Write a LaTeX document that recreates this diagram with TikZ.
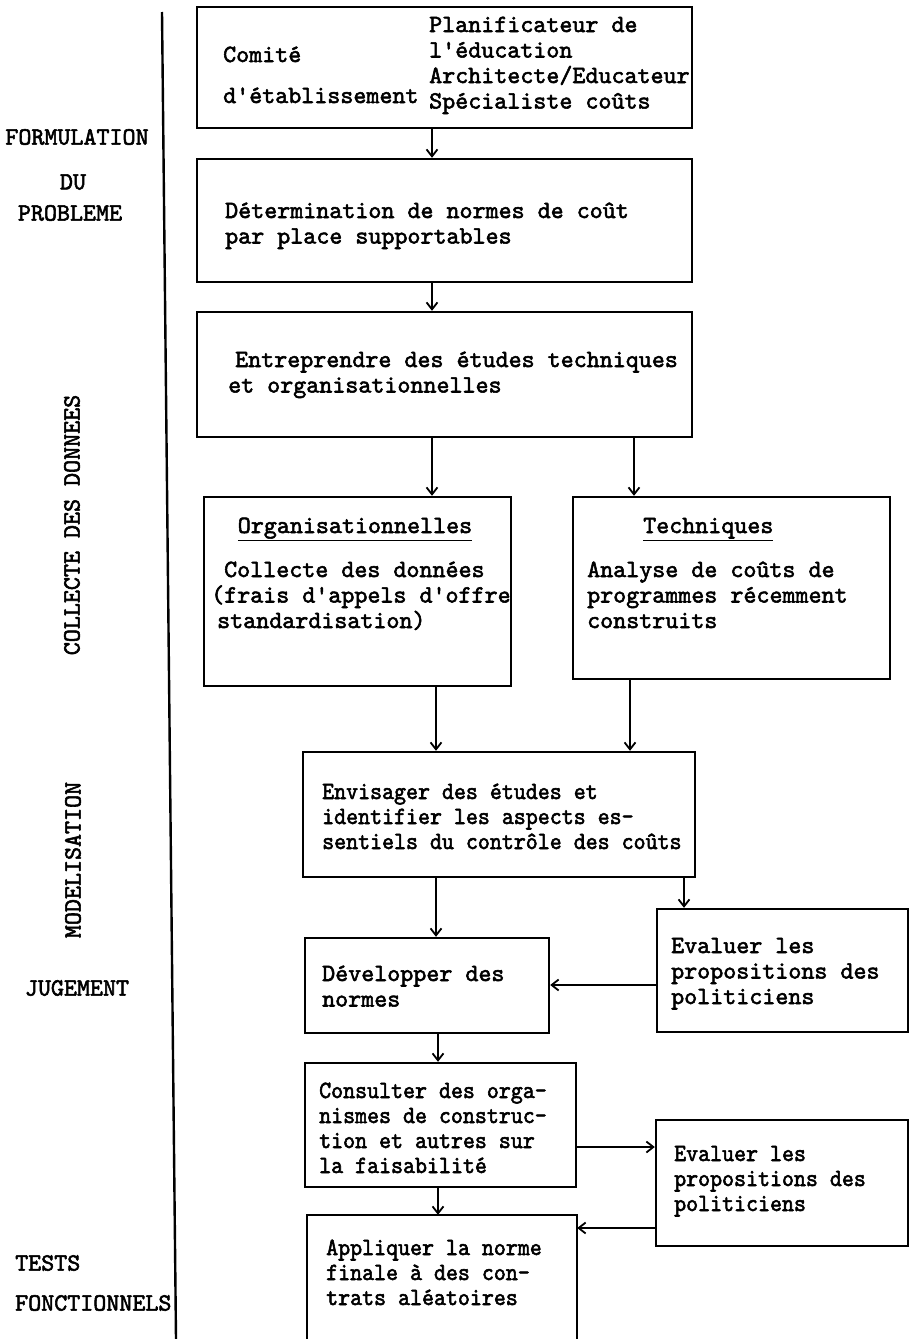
\documentclass[tikz,border=0pt]{standalone}
\usepackage{fontspec}
\usetikzlibrary{arrows.meta}
\newcommand\stack[1]{\begin{tabular}[t]{@{}l@{}}#1\end{tabular}}
% typewriter faces: regular and slightly condensed
\newfontfamily\twfam{lmmono10-regular.otf}[FakeBold=2.2]
\newfontfamily\twcfam{lmmono10-regular.otf}[FakeBold=2.2,FakeStretch=0.92]
\newcommand\twfont{\twfam\fontsize{24.8}{25.5}\selectfont}
\newcommand\twcfont{\twcfam\fontsize{24.8}{25}\selectfont}
\tikzset{
  x=1pt, y=-1pt,
  box/.style={draw, line width=2.4pt, inner sep=0pt},
  openbox/.style={inner sep=0pt},
  txt/.style={anchor=base west, inner sep=0pt, font=\twfont},
  ctxt/.style={anchor=base west, inner sep=0pt, font=\twcfont},
  side/.style={inner sep=0pt, font=\twfont},
  arr/.style={line width=1.8pt, -{Straight Barb[length=7pt,width=11pt,line width=1.8pt]}},
  rule/.style={line width=2.4pt}
}
\begin{document}
\begin{tikzpicture}
\useasboundingbox (0,0) rectangle (910,1339);

% phase rule on the left
\coordinate (ruletop) at (162,12);
\coordinate (rulebot) at (176,1339);
\draw[rule] (ruletop) -- (rulebot);

% phase labels
\node[side] (lf1) at (77,137) {FORMULATION};
\node[side] (lf2) at (73,182) {DU};
\node[side] (lf3) at (70,213) {PROBLEME};
\node[side, rotate=90] (lcol) at (72,525) {COLLECTE DES DONNEES};
\node[side, rotate=90] (lmod) at (73,860) {MODELISATION};
\node[side] (ljug) at (77,988) {JUGEMENT};
\node[side, anchor=west] (ltst) at (15,1263) {TESTS};
\node[side, anchor=west] (lfon) at (15,1303) {FONCTIONNELS};

% boxes (centre, size)
\node[box, minimum width=495pt, minimum height=121pt] (comite) at (444.5,67.5) {};
\node[box, minimum width=495pt, minimum height=123pt] (norme) at (444.5,220.5) {};
\node[box, minimum width=495pt, minimum height=125pt] (etudes) at (444.5,374.5) {};
\node[box, minimum width=307pt, minimum height=189pt] (org) at (357.5,591.5) {};
\node[box, minimum width=317pt, minimum height=182pt] (tech) at (731.5,588) {};
\node[box, minimum width=392pt, minimum height=125pt] (envis) at (499,814.5) {};
\node[box, minimum width=251pt, minimum height=123pt] (eval1) at (782.5,970.5) {};
\node[box, minimum width=244pt, minimum height=95pt] (devel) at (427,985.5) {};
\node[box, minimum width=271pt, minimum height=124pt] (consult) at (440.5,1125) {};
\node[box, minimum width=252pt, minimum height=126pt] (eval2) at (782,1183) {};
\node[openbox, minimum width=270pt, minimum height=124pt] (appl) at (442,1277) {};
\draw[line width=2.4pt] (appl.south west) -- (appl.north west) -- (appl.north east) -- (appl.south east);

% box texts
\node[txt] (t1a) at (223,62) {\stack{Comité\\[15.5pt]d'établissement}};
\node[txt] (t1b) at (429,32) {\stack{Planificateur de\\l'éducation\\Architecte/Educateur\\Spécialiste coûts}};
\node[txt] (t2) at (225,218) {\stack{Détermination de normes de coût\\par place supportables}};
\node[txt] (t3) at (228,367) {\stack{\hspace{7pt}Entreprendre des études techniques\\et organisationnelles}};
\node[txt, anchor=base] (t4h) at (355,533) {\underline{Organisationnelles}};
\node[txt] (t4) at (211,577) {\stack{\hspace{13pt}Collecte des données\\(frais d'appels d'offre\\\hspace{6pt}standardisation)}};
\node[txt] (t5h) at (643,533) {\underline{Techniques}};
\node[txt] (t5) at (587,577) {\stack{Analyse de coûts de\\programmes récemment\\construits}};
\node[ctxt] (t6) at (322,799) {\stack{Envisager des études et\\identifier les aspects es-\\sentiels du contrôle des coûts}};
\node[txt] (t7) at (671,953) {\stack{Evaluer les\\propositions des\\politiciens}};
\node[txt] (t8) at (322,981) {\stack{Développer des\\normes}};
\node[ctxt] (t9) at (319,1098) {\stack{Consulter des orga-\\nismes de construc-\\tion et autres sur\\la faisabilité}};
\node[ctxt] (t10) at (674,1161) {\stack{Evaluer les\\propositions des\\politiciens}};
\node[ctxt] (t11) at (326,1255) {\stack{Appliquer la norme\\finale à des con-\\trats aléatoires}};

% connector columns and rows
\coordinate (cA) at (432,0);
\coordinate (cB) at (634,0);
\coordinate (cC) at (436,0);
\coordinate (cD) at (630,0);
\coordinate (cE) at (684,0);
\coordinate (cF) at (438,0);
\coordinate (rA) at (0,985);
\coordinate (rB) at (0,1147);
\coordinate (rC) at (0,1228);

\draw[arr] (comite.south -| cA) -- (norme.north -| cA);
\draw[arr] (norme.south -| cA) -- (etudes.north -| cA);
\draw[arr] (etudes.south -| cA) -- (org.north -| cA);
\draw[arr] (etudes.south -| cB) -- (tech.north -| cB);
\draw[arr] (org.south -| cC) -- (envis.north -| cC);
\draw[arr] (tech.south -| cD) -- (envis.north -| cD);
\draw[arr] (envis.south -| cC) -- (devel.north -| cC);
\draw[arr] (envis.south -| cE) -- (eval1.north -| cE);
\draw[arr] (eval1.west |- rA) -- (devel.east |- rA);
\draw[arr] (devel.south -| cF) -- (consult.north -| cF);
\draw[arr] (consult.east |- rB) -- (eval2.west |- rB);
\draw[arr] (consult.south -| cF) -- (appl.north -| cF);
\draw[arr] (eval2.west |- rC) -- (appl.east |- rC);
\end{tikzpicture}
\end{document}
